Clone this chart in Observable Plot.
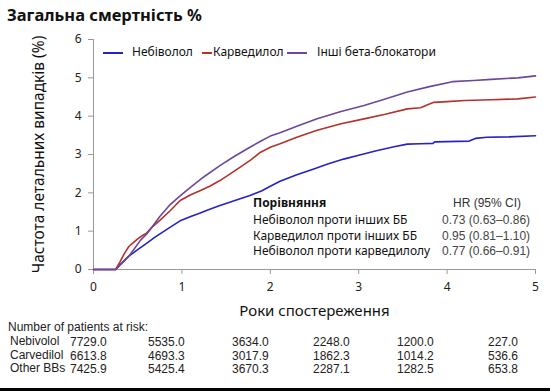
<!DOCTYPE html>
<html><head><meta charset="utf-8">
<script src="https://cdn.jsdelivr.net/npm/d3@7"></script>
<script src="https://cdn.jsdelivr.net/npm/@observablehq/plot@0.6"></script>
<style>
body{margin:0;background:#fff;}
#wrap{position:relative;width:550px;height:391px;overflow:hidden;font-family:"Noto Sans",sans-serif;}
#wrap svg{position:absolute;left:0;top:0;}
.abs{position:absolute;white-space:nowrap;}
.ar{font-family:"Liberation Sans",Arial,sans-serif;font-size:12px;color:#222;}
</style></head>
<body><div id="wrap"></div>
<script>
const nebX = [0,0.25,0.3,0.4,0.5,0.6,0.7,0.8,0.9,0.98,1.1,1.2,1.3,1.43,1.55,1.65,1.77,1.9,2.0,2.11,2.3,2.5,2.65,2.83,3.0,3.2,3.4,3.55,3.7,3.84,3.86,4.25,4.32,4.45,4.7,5.0];
const nebY = [0,0,0.12,0.35,0.52,0.68,0.85,1.0,1.15,1.27,1.38,1.47,1.56,1.67,1.76,1.84,1.93,2.05,2.17,2.3,2.47,2.63,2.75,2.88,2.98,3.1,3.2,3.27,3.28,3.29,3.33,3.35,3.42,3.45,3.46,3.49];
const carX = [0,0.25,0.3,0.35,0.4,0.45,0.5,0.55,0.6,0.66,0.75,0.87,0.98,1.1,1.21,1.32,1.43,1.55,1.66,1.78,1.89,2.0,2.11,2.3,2.53,2.8,3.06,3.3,3.55,3.7,3.78,3.85,4.0,4.2,4.5,4.8,5.0];
const carY = [0,0,0.2,0.42,0.6,0.7,0.8,0.88,0.95,1.1,1.28,1.54,1.8,1.95,2.06,2.18,2.32,2.5,2.67,2.86,3.06,3.19,3.28,3.45,3.63,3.8,3.93,4.05,4.19,4.22,4.3,4.36,4.38,4.41,4.43,4.45,4.5];
const othX = [0,0.25,0.3,0.4,0.45,0.53,0.6,0.66,0.75,0.87,0.98,1.1,1.25,1.43,1.6,1.77,1.9,2.0,2.11,2.3,2.53,2.8,3.06,3.3,3.55,3.8,4.06,4.3,4.5,4.8,5.0];
const othY = [0,0,0.12,0.35,0.5,0.76,0.92,1.1,1.38,1.7,1.92,2.15,2.42,2.71,2.96,3.19,3.36,3.48,3.57,3.74,3.93,4.12,4.28,4.45,4.63,4.77,4.9,4.93,4.96,5.0,5.05];

const seriesNames = ["Небіволол","Карведилол","Інші бета-блокатори"];
const seriesColors = ["#2323c8","#b5312c","#6b479e"];
const xTicks = [0,1,2,3,4,5];
const yTicks = [0,1,2,3,4,5,6];
const title = "Загальна смертність %";
const yLabel = "Частота летальних випадків (%)";
const xLabel = "Роки спостереження";
const hrHeader = ["Порівняння","HR (95% CI)"];
const hrLabels = ["Небіволол проти інших ББ","Карведилол проти інших ББ","Небіволол проти карведилолу"];
const hrValues = ["0.73 (0.63–0.86)","0.95 (0.81–1.10)","0.77 (0.66–0.91)"];
const riskTitle = "Number of patients at risk:";
const riskGroups = ["Nebivolol","Carvedilol","Other BBs"];
const riskNeb = ["7729.0","5535.0","3634.0","2248.0","1200.0","227.0"];
const riskCar = ["6613.8","4693.3","3017.9","1862.3","1014.2","536.6"];
const riskOth = ["7425.9","5425.4","3670.3","2287.1","1282.5","653.8"];

const rows = [];
[[nebX,nebY],[carX,carY],[othX,othY]].forEach(([xs,ys],i)=>{
  xs.forEach((x,j)=>rows.push({s:seriesNames[i],x,y:ys[j]}));
});

const plot = Plot.plot({
  width:550, height:391,
  marginLeft:93, marginRight:15, marginTop:39, marginBottom:122,
  style:{fontFamily:"Noto Sans, sans-serif", fontSize:"12px", color:"#222", background:"transparent"},
  x:{domain:[0,5], ticks:xTicks, tickFormat:d=>String(d)},
  y:{domain:[0,6], ticks:yTicks, tickFormat:d=>String(d)},
  color:{domain:seriesNames, range:seriesColors},
  marks:[
    Plot.axisY({ticks:yTicks, tickSize:5, tickPadding:7, label:null, stroke:"#999", fill:"#222", fontSize:12, tickFormat:d=>String(d)}),
    Plot.axisX({ticks:xTicks, tickSize:5, tickPadding:8, label:null, stroke:"#999", fill:"#222", fontSize:12, tickFormat:d=>String(d)}),
    Plot.ruleX([0],{stroke:"#999"}),
    Plot.ruleY([0],{stroke:"#999"}),
    Plot.line(rows,{x:"x", y:"y", z:"s", stroke:"s", strokeWidth:1.6}),
    Plot.text([yLabel],{frameAnchor:"left", rotate:-90, dx:-54, textAnchor:"middle", fontSize:15.5, fill:"#111"}),
    Plot.text([xLabel],{frameAnchor:"bottom", dy:46, fontSize:15, fill:"#111"})
  ]
});
const wrap = document.getElementById("wrap");
wrap.appendChild(plot);

function add(html, style, cls){
  const d=document.createElement("div");
  d.className="abs "+(cls||"");
  d.style.cssText=style;
  d.textContent=html;
  wrap.appendChild(d);
  return d;
}
add(title,"left:7px;top:3px;font-size:16.5px;font-weight:bold;color:#111;");

// legend
const legX=[103,202,287], legTX=[132,213,317];
seriesNames.forEach((n,i)=>{
  const l=document.createElement("div");
  l.className="abs";
  l.style.cssText=`left:${legX[i]}px;top:52px;width:${i==1?10:20}px;height:2px;background:${seriesColors[i]};`;
  wrap.appendChild(l);
  add(n,`left:${legTX[i]}px;top:43px;font-size:12px;color:#111;`);
});

// HR table
add(hrHeader[0],"left:253px;top:194px;font-size:12px;font-weight:bold;color:#111;");
add(hrHeader[1],"left:453px;top:196px;color:#333;","ar");
hrLabels.forEach((t,i)=>{
  add(t,`left:253px;top:${211+i*15.5}px;font-size:12px;color:#111;`);
  add(hrValues[i],`left:442px;top:${213+i*15.5}px;color:#444;`,"ar");
});

// risk table
add(riskTitle,"left:8px;top:320px;","ar");
const colX=[70,148,232,313,397,488];
[riskNeb,riskCar,riskOth].forEach((vals,i)=>{
  add(riskGroups[i],`left:10px;top:${334+i*13.5}px;`,"ar");
  vals.forEach((v,j)=>add(v,`left:${colX[j]}px;top:${335+i*13.5}px;`,"ar"));
});
const bar=document.createElement("div");
bar.className="abs";
bar.style.cssText="left:0;top:388px;width:550px;height:3px;background:#000;";
wrap.appendChild(bar);
</script></body></html>
